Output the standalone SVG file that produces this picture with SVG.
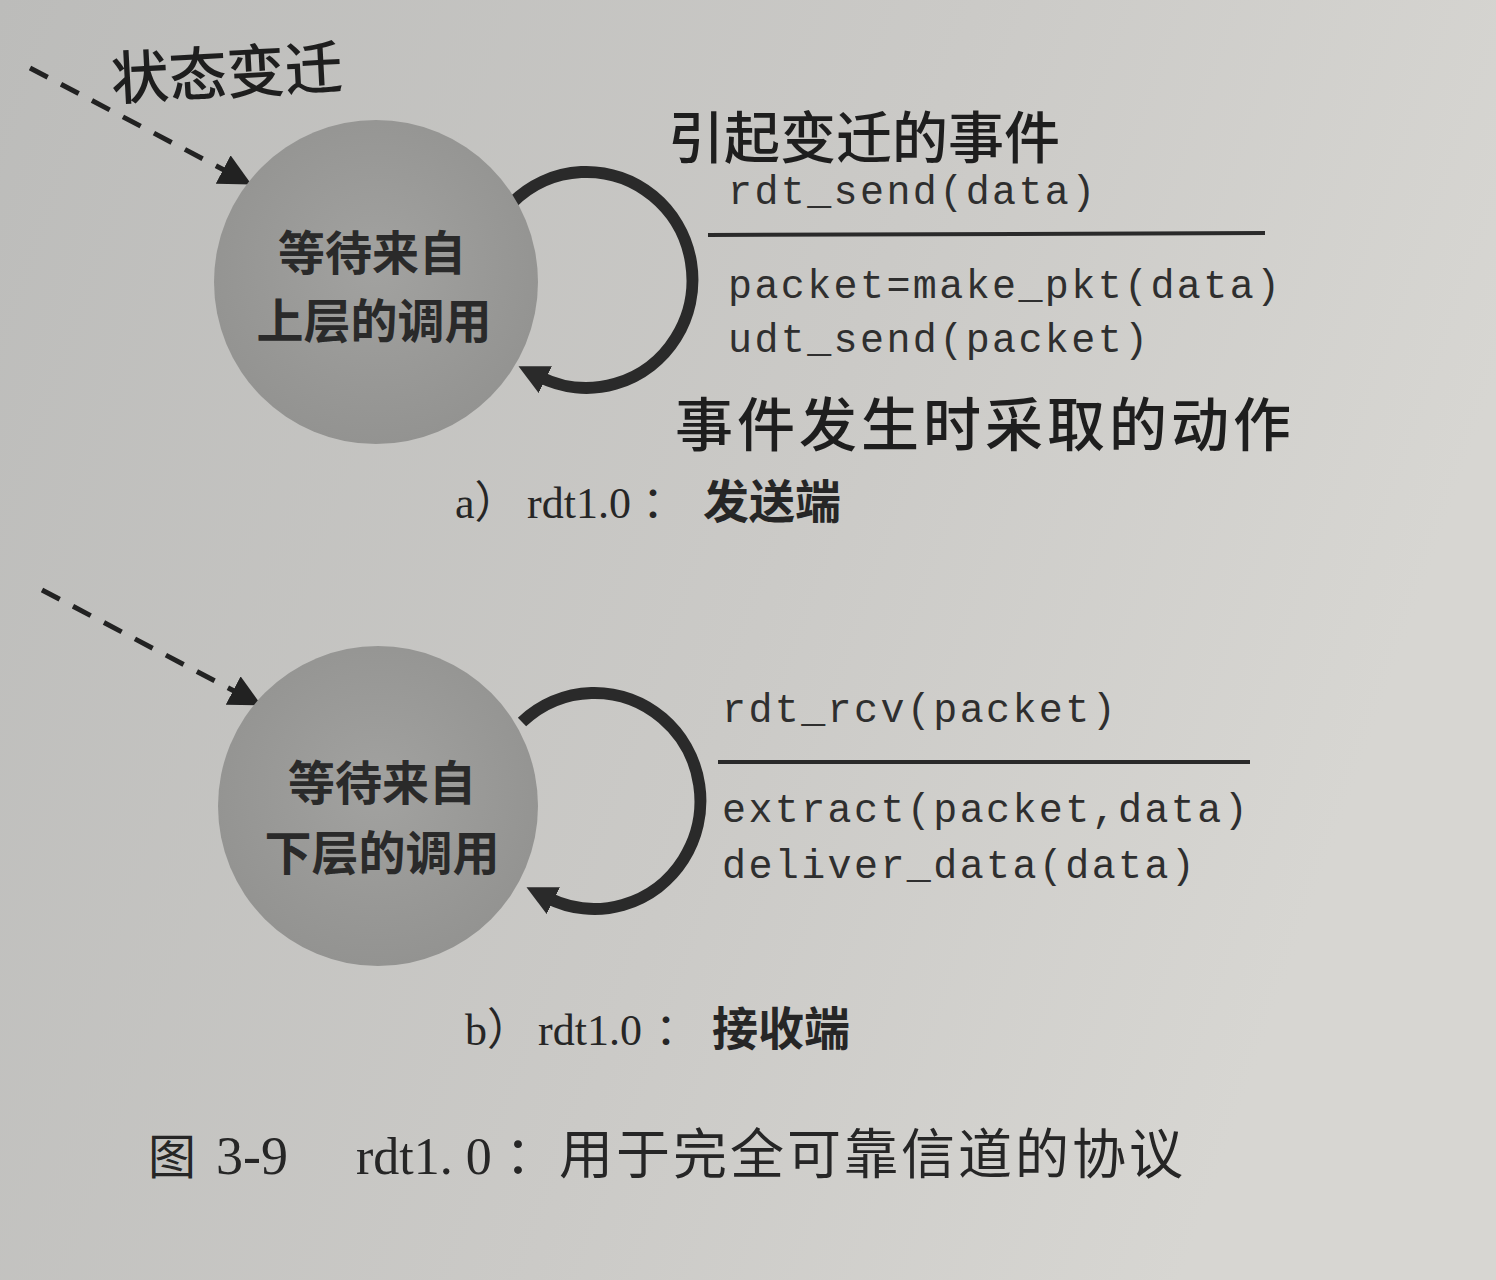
<svg xmlns="http://www.w3.org/2000/svg" width="1496" height="1280" viewBox="0 0 1496 1280">
<defs>
<linearGradient id="paper" x1="0" y1="0" x2="1" y2="0.3">
<stop offset="0" stop-color="#bcbcba"/>
<stop offset="0.6" stop-color="#cbcac7"/>
<stop offset="1" stop-color="#d7d6d2"/>
</linearGradient>
<radialGradient id="state" cx="0.5" cy="0.45" r="0.55">
<stop offset="0" stop-color="#a2a2a0"/>
<stop offset="1" stop-color="#939391"/>
</radialGradient>
<marker id="loopHead" viewBox="0 0 10 10" refX="2" refY="5" markerWidth="30" markerHeight="30" markerUnits="userSpaceOnUse" orient="auto">
<path d="M0,0 L10,5 L0,10 z" fill="#2a2a2a"/>
</marker>
<marker id="initHead" viewBox="0 0 10 10" refX="1" refY="5" markerWidth="32" markerHeight="32" markerUnits="userSpaceOnUse" orient="auto">
<path d="M0,0 L10,5 L0,10 z" fill="#222"/>
</marker>
</defs>
<style>
.state{fill:url(#state);}
.stext{font-family:"Noto Sans CJK SC","Noto Sans",sans-serif;font-weight:700;font-size:47px;fill:#2a2a2a;text-anchor:middle;}
.loop{fill:none;stroke:#2a2a2a;stroke-width:12;}
.init{fill:none;stroke:#222;stroke-width:5;stroke-dasharray:20 15;}
.mono{font-family:"Liberation Mono","DejaVu Sans Mono",monospace;font-size:40px;letter-spacing:2.4px;fill:#2f2f2f;}
.bar{stroke:#2a2a2a;stroke-width:4;}
.cap{font-family:"Liberation Serif","Noto Sans CJK SC",serif;font-size:44px;fill:#262626;}
.capzh{font-family:"Noto Sans CJK SC",sans-serif;font-weight:700;font-size:46px;}
.hand{font-family:"Noto Sans CJK SC",sans-serif;font-weight:500;fill:#1e1e1e;}
.fig{font-family:"Liberation Serif","Noto Sans CJK SC",serif;font-size:52px;fill:#262626;}
.figzh{font-family:"Noto Sans CJK SC",sans-serif;font-size:54px;letter-spacing:3px;}
</style>
<rect width="1496" height="1280" fill="url(#paper)"/>

<g id="connectors">
<path id="init-a" class="init" d="M30,68 L226,171" marker-end="url(#initHead)"/>
<path id="loop-a" class="loop" d="M512,203 A106,108 0 1 1 540,377" marker-end="url(#loopHead)"/>
<path id="init-b" class="init" d="M42,590 L236,692" marker-end="url(#initHead)"/>
<path id="loop-b" class="loop" d="M522,722 A106,108 0 1 1 548,898" marker-end="url(#loopHead)"/>
</g>

<g id="state-sender">
<circle class="state" cx="376" cy="282" r="162"/>
<text class="stext" x="372" y="270">等待来自</text>
<text class="stext" x="374" y="338">上层的调用</text>
</g>

<g id="state-receiver">
<circle class="state" cx="378" cy="806" r="160"/>
<text class="stext" x="382" y="800">等待来自</text>
<text class="stext" x="382" y="870">下层的调用</text>
</g>

<g id="label-a">
<text class="mono" x="728" y="204">rdt_send(data)</text>
<line class="bar" x1="708" y1="235" x2="1265" y2="233"/>
<text class="mono" x="728" y="298">packet=make_pkt(data)</text>
<text class="mono" x="728" y="352">udt_send(packet)</text>
</g>

<g id="label-b">
<text class="mono" x="722" y="722">rdt_rcv(packet)</text>
<line class="bar" x1="718" y1="762" x2="1250" y2="762"/>
<text class="mono" x="722" y="822">extract(packet,data)</text>
<text class="mono" x="722" y="878">deliver_data(data)</text>
</g>

<g id="annotations">
<text class="hand" x="112" y="100" font-size="58" transform="rotate(-3 112 100)">状态变迁</text>
<text class="hand" x="668" y="158" font-size="56">引起变迁的事件</text>
<text class="hand" x="675" y="446" font-size="58" letter-spacing="4">事件发生时采取的动作</text>
</g>

<g id="captions">
<text class="cap" y="518"><tspan x="455">a）</tspan><tspan x="527">rdt1.0</tspan><tspan x="642">：</tspan><tspan class="capzh" x="703">发送端</tspan></text>
<text class="cap" y="1045"><tspan x="465">b）</tspan><tspan x="538">rdt1.0</tspan><tspan x="655">：</tspan><tspan class="capzh" x="712">接收端</tspan></text>
<text class="fig" y="1174"><tspan x="148" font-size="48" font-family="Noto Sans CJK SC, sans-serif">图</tspan><tspan x="216" font-size="54">3-9</tspan><tspan x="356">rdt1. 0</tspan><tspan x="505" font-family="Noto Sans CJK SC, sans-serif">：</tspan><tspan class="figzh" x="559">用于完全可靠信道的协议</tspan></text>
</g>
</svg>
